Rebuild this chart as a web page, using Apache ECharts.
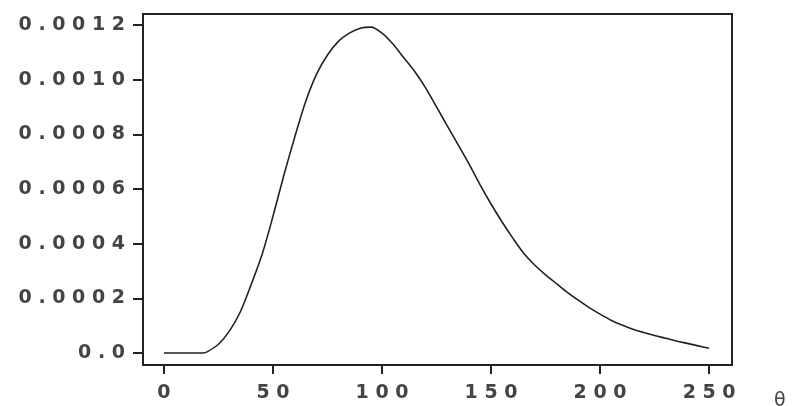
<!DOCTYPE html>
<html>
<head>
<meta charset="utf-8">
<script src="https://cdn.jsdelivr.net/npm/echarts@6/dist/echarts.min.js"></script>
<style>
  html, body { margin: 0; padding: 0; background: #fff; }
  #chart { width: 794px; height: 406px; }
</style>
</head>
<body>
<div id="chart"></div>
<script>
// values
var theta = [0, 5, 10, 15, 18, 20, 25, 30, 35, 40, 45, 50, 55, 60, 65, 70, 75, 80, 85, 90,
             95, 100, 105, 110, 115, 120, 125, 130, 135, 140, 145, 150, 155, 160, 165, 170,
             175, 180, 185, 190, 195, 200, 205, 210, 215, 220, 225, 230, 235, 240, 245, 250];
var density = [0, 0, 0, 0, 0, 0.000005, 0.000032, 0.00008, 0.00015, 0.00025, 0.00036, 0.0005,
               0.00065, 0.00079, 0.00092, 0.00102, 0.00109, 0.00114, 0.00117, 0.001188,
               0.001192, 0.00117, 0.00113, 0.00108, 0.00103, 0.00097, 0.0009, 0.00083, 0.00076,
               0.00069, 0.000615, 0.000545, 0.00048, 0.00042, 0.000365, 0.000322, 0.000286,
               0.000254, 0.000222, 0.000193, 0.000166, 0.000142, 0.00012, 0.000102, 0.000087,
               0.000075, 0.000064, 0.000054, 0.000044, 0.000035, 0.000026, 0.000017];
var xTicks = [0, 50, 100, 150, 200, 250];
var yTicks = [0, 0.0002, 0.0004, 0.0006, 0.0008, 0.0010, 0.0012];

// old plotter look: wide character pitch
function spaced(s) { return s.split('').join(' '); }

var chart = echarts.init(document.getElementById('chart'));

var labelFont = {
    fontFamily: 'DejaVu Sans',
    fontSize: 19,
    fontWeight: 'bold',
    color: '#444'
};

var option = {
    animation: false,
    grid: {
        left: 143, top: 14, right: 62, bottom: 41,
        outerBoundsMode: 'none',
        containLabel: false,
        show: true,
        borderColor: '#222',
        borderWidth: 2,
        backgroundColor: '#fff'
    },
    xAxis: {
        type: 'value',
        min: -9.6,
        max: 260.5,
        name: 'θ',
        nameLocation: 'end',
        nameGap: 42,
        nameTextStyle: {
            fontFamily: 'DejaVu Sans',
            fontSize: 19,
            color: '#444',
            verticalAlign: 'top',
            padding: [27, 0, 0, 0]
        },
        splitLine: { show: false },
        axisLine: { show: true, onZero: false, lineStyle: { color: '#222', width: 2 } },
        axisTick: {
            show: true, inside: false, length: 9,
            customValues: xTicks,
            lineStyle: { color: '#222', width: 2 }
        },
        axisLabel: Object.assign({
            customValues: xTicks,
            margin: 19,
            formatter: function (v) { return spaced(String(Math.round(v))); }
        }, labelFont)
    },
    yAxis: {
        type: 'value',
        min: -0.000044,
        max: 0.00124,
        splitLine: { show: false },
        axisLine: { show: true, onZero: false, lineStyle: { color: '#222', width: 2 } },
        axisTick: {
            show: true, inside: false, length: 10,
            customValues: yTicks,
            lineStyle: { color: '#222', width: 2 }
        },
        axisLabel: Object.assign({
            customValues: yTicks,
            margin: 18,
            formatter: function (v) {
                return spaced(v === 0 ? '0.0' : v.toFixed(4));
            }
        }, labelFont)
    },
    series: [
        {
            type: 'line',
            data: theta.map(function (t, i) { return [t, density[i]]; }),
            smooth: 0.3,
            showSymbol: false,
            lineStyle: { color: '#222', width: 1.6 }
        }
    ]
};

chart.setOption(option);
</script>
</body>
</html>
